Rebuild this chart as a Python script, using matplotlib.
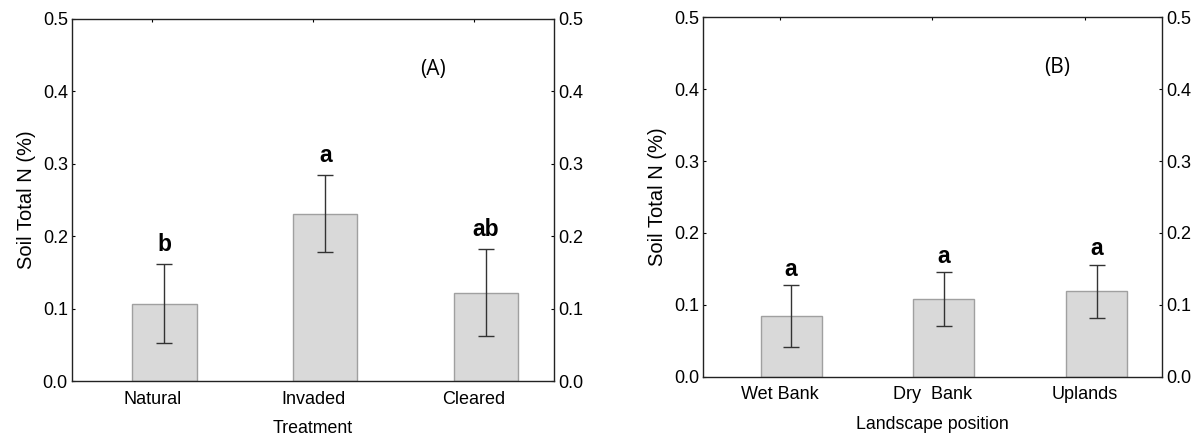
import matplotlib
matplotlib.use("Agg")
import matplotlib.pyplot as plt
import numpy as np

plt.rcParams['font.family'] = ['Liberation Sans', 'DejaVu Sans']

# panel A: treatment
treatments = ['Natural', 'Invaded', 'Cleared']
treat_mean = [0.107, 0.231, 0.122]
treat_err = [0.054, 0.053, 0.060]
treat_letters = ['b', 'a', 'ab']

# panel B: landscape position
positions = ['Wet Bank', 'Dry  Bank', 'Uplands']
pos_mean = [0.084, 0.108, 0.119]
pos_err = [0.043, 0.037, 0.037]
pos_letters = ['a', 'a', 'a']

BAR_FACE = '#d9d9d9'
BAR_EDGE = '#a0a0a0'
ERR_COLOR = '#333333'


def draw_panel(ax, cats, means, errs, letters, xlabel, tag, tag_x, letter_gap):
    x = np.arange(len(cats))
    # bars sit a little right of the tick, like the original software
    xb = x + 0.075
    ax.bar(xb, means, width=0.40, color=BAR_FACE, edgecolor=BAR_EDGE,
           linewidth=1.0, zorder=2)
    ax.errorbar(xb, means, yerr=errs, fmt='none', ecolor=ERR_COLOR,
                elinewidth=1.0, capsize=5.5, capthick=1.0, zorder=3)
    for xi, m, e, lab in zip(xb, means, errs, letters):
        ax.text(xi, m + e + letter_gap, lab, ha='center', va='bottom',
                fontsize=16.5, fontweight='bold')

    ax.set_xlim(-0.5, 2.5)
    ax.set_ylim(0, 0.5)
    ax.set_yticks(np.arange(0, 0.51, 0.1))
    ax.set_yticklabels([f'{v:.1f}' for v in np.arange(0, 0.51, 0.1)])
    ax.set_xticks(x)
    ax.set_xticklabels(cats)
    ax.tick_params(axis='both', direction='in', length=2, width=0.8,
                   top=True, right=True, labelright=True, labelsize=13,
                   colors='black')
    ax.tick_params(axis='x', pad=7)
    ax.tick_params(axis='y', pad=3)
    ax.set_xlabel(xlabel, fontsize=12.8, labelpad=9)
    ax.set_ylabel('Soil Total N (%)', fontsize=14.5, labelpad=5)
    for s in ax.spines.values():
        s.set_linewidth(1.0)
        s.set_color('#222222')
    ax.text(tag_x, 0.86, tag, transform=ax.transAxes, ha='center',
            va='center', fontsize=15, family=['Open Sans', 'DejaVu Sans'])


fig = plt.figure(figsize=(12.04, 4.41), dpi=100)
ax1 = fig.add_axes([0.0598, 0.136, 0.4006, 0.821])
ax2 = fig.add_axes([0.5841, 0.1458, 0.3807, 0.815])

draw_panel(ax1, treatments, treat_mean, treat_err, treat_letters,
           'Treatment', '(A)', 0.748, 0.012)
draw_panel(ax2, positions, pos_mean, pos_err, pos_letters,
           'Landscape position', '(B)', 0.772, 0.006)

fig.savefig('out.png', dpi=100, facecolor='white')
